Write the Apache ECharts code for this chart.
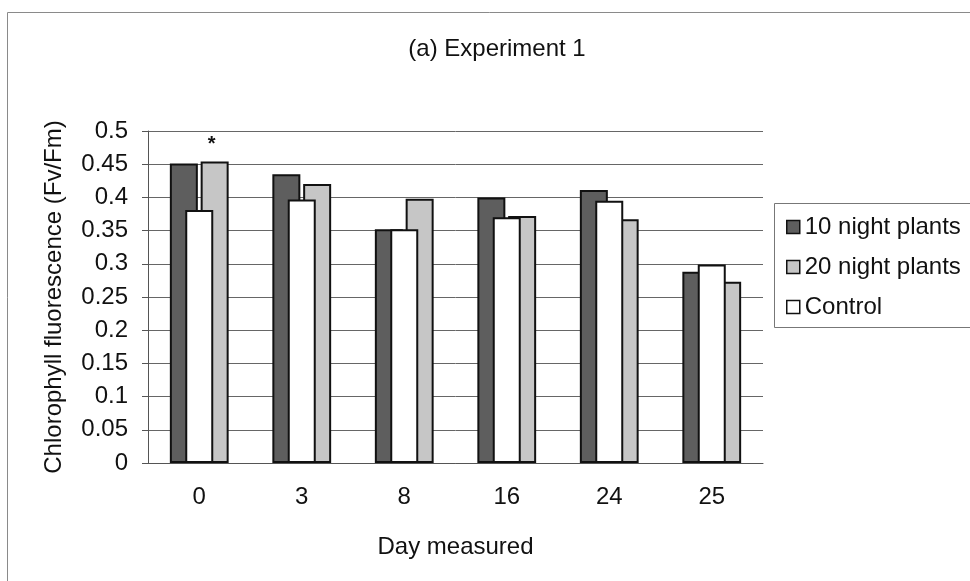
<!DOCTYPE html>
<html>
<head>
<meta charset="utf-8">
<script src="https://cdn.jsdelivr.net/npm/echarts@6/dist/echarts.min.js"></script>
<style>
  html, body { margin: 0; padding: 0; background: #fff; }
  #chart { width: 970px; height: 581px; }
</style>
</head>
<body>
<div id="chart"></div>
<script>
const days = ['0', '3', '8', '16', '24', '25']
const tenNight = [0.451, 0.435, 0.352, 0.400, 0.411, 0.288]
const control = [0.381, 0.397, 0.352, 0.370, 0.395, 0.299]
const twentyNight = [0.454, 0.420, 0.398, 0.372, 0.367, 0.273]
const legendNames = ['10 night plants', '20 night plants', 'Control']

const font = 'Liberation Sans, Arial, sans-serif'
const myChart = echarts.init(document.getElementById('chart'))

const barBorder = { borderColor: '#111', borderWidth: 2 }

const option = {
  animation: false,
  textStyle: { fontFamily: font, color: '#111' },
  title: {
    text: '(a) Experiment 1',
    left: 492,
    textAlign: 'center',
    top: 32,
    textStyle: { fontFamily: font, fontSize: 24, fontWeight: 'normal', color: '#111' },
  },
  graphic: [
    { type: 'rect', shape: { x: 7.5, y: 12.5, width: 1000, height: 600 }, style: { fill: 'none', stroke: '#8a8a8a', lineWidth: 1 } },
    { type: 'rect', shape: { x: 774.5, y: 203.5, width: 220, height: 124 }, style: { fill: '#fff', stroke: '#777', lineWidth: 1 }, z: -1 },
  ],
  legend: {
    data: legendNames,
    orient: 'vertical',
    left: 786,
    top: 215,
    padding: 0,
    itemWidth: 13,
    itemHeight: 13,
    itemGap: 16,
    icon: 'rect',
    itemStyle: { borderWidth: 1.5, borderColor: '#111' },
    textStyle: { fontFamily: font, fontSize: 24, color: '#111' },
  },
  grid: { left: 148, right: 207, top: 131, bottom: 118 },
  xAxis: {
    type: 'category',
    data: days,
    name: 'Day measured',
    nameLocation: 'middle',
    nameGap: 72,
    nameTextStyle: { fontSize: 24, color: '#111' },
    axisLine: { lineStyle: { color: '#555', width: 1 } },
    axisTick: { length: 7, lineStyle: { color: '#555' } },
    axisLabel: { fontSize: 24, color: '#111', margin: 22 },
  },
  yAxis: {
    type: 'value',
    min: 0,
    max: 0.5,
    interval: 0.05,
    name: 'Chlorophyll fluorescence (Fv/Fm)',
    nameLocation: 'middle',
    nameGap: 82,
    nameTextStyle: { fontSize: 24, color: '#111' },
    axisLine: { show: true, lineStyle: { color: '#555', width: 1 } },
    axisTick: { show: true, length: 6, lineStyle: { color: '#555' } },
    axisLabel: { fontSize: 24, color: '#111', margin: 20 },
    splitLine: { lineStyle: { color: '#666', width: 1 } },
  },
  series: [
    {
      name: '10 night plants', type: 'bar', data: tenNight,
      barWidth: 28, barGap: '-45%', barCategoryGap: '40%',
      itemStyle: Object.assign({ color: '#5e5e5e' }, barBorder),
    },
    {
      name: 'Control', type: 'bar', data: control, z: 4,
      barWidth: 28, barGap: '-45%',
      itemStyle: Object.assign({ color: '#ffffff' }, barBorder),
    },
    {
      name: '20 night plants', type: 'bar',
      data: twentyNight.map((v, i) => i === 0
        ? { value: v, label: { show: true, position: 'top', formatter: '*', fontSize: 20, fontWeight: 'bold', color: '#111', offset: [-3, -2] } }
        : v),
      barWidth: 28, barGap: '-45%',
      itemStyle: Object.assign({ color: '#c6c6c6' }, barBorder),
    },
  ],
}

myChart.setOption(option)
</script>
</body>
</html>
